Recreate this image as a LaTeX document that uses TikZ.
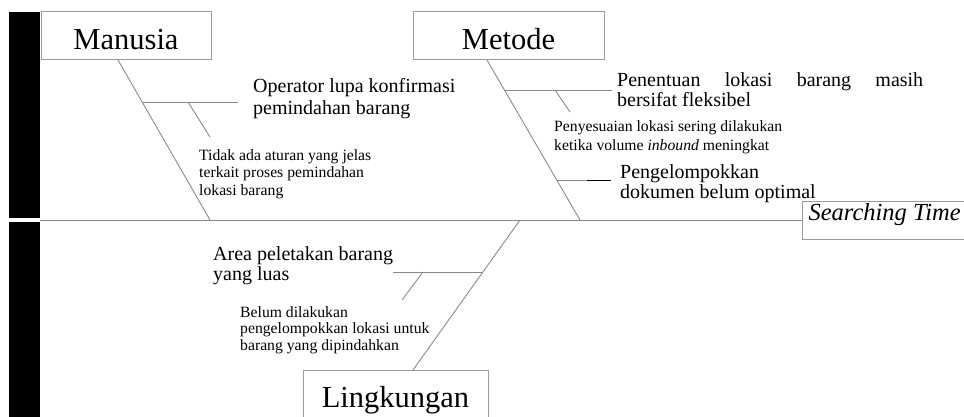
\documentclass[tikz,border=0pt]{standalone}
\usepackage{fontspec}
\setmainfont{Liberation Serif}
\definecolor{linegray}{HTML}{8A8A8A}
\definecolor{boxgray}{HTML}{9A9A9A}
\tikzset{
  bone/.style={draw=linegray, line width=0.9pt},
  titlebox/.style={draw=boxgray, line width=1pt, inner sep=0pt, anchor=base,
                   font=\fontsize{30.5}{32}\selectfont},
  bigtxt/.style={font=\fontsize{20}{22}\selectfont, align=left, inner sep=0pt, anchor=base west},
  smalltxt/.style={font=\fontsize{15.7}{17.5}\selectfont, align=left, inner sep=0pt, anchor=base west},
}
\begin{document}
\begin{tikzpicture}[x=1pt,y=-1pt]
\useasboundingbox (0,0) rectangle (964,417);
% black bar
\fill[black] (9,12) rectangle (40,218);
\fill[black] (9,222) rectangle (40,417);
% title boxes
\node[titlebox, minimum width=170pt, text height=38pt, text depth=10pt] (man) at (126,50) {Manusia};
\node[titlebox, minimum width=191pt, text height=38pt, text depth=10pt] (met) at (508.5,50) {Metode};
\node[titlebox, minimum width=185pt, text height=37pt, text depth=18pt] (lin) at (395.5,407) {Lingkungan};
\node[draw=boxgray, line width=1pt, inner ysep=0pt, inner xsep=6pt, text height=19pt, text depth=19pt,
      anchor=base west, font=\fontsize{24.5}{26}\selectfont\itshape] (st) at (802,220) {Searching Time};
% spine
\coordinate (tail) at (40,220);
\draw[bone] (tail) -- (st.west);
% Manusia bone
\coordinate (m1) at (118,60);
\coordinate (m2) at (210,220);
\draw[bone] (m1) -- (m2);
\coordinate (ma) at (143,102);
\coordinate (mb) at (238,102);
\draw[bone] (ma) -- (mb);
\coordinate (mc) at (188,102);
\coordinate (md) at (210,137);
\draw[bone] (mc) -- (md);
% Metode bone
\coordinate (e1) at (487,60);
\coordinate (e2) at (580,220);
\draw[bone] (e1) -- (e2);
\coordinate (ea) at (504,90);
\coordinate (eb) at (612,90);
\draw[bone] (ea) -- (eb);
\coordinate (ec) at (555,90);
\coordinate (ed) at (570,112);
\draw[bone] (ec) -- (ed);
\coordinate (ee) at (557,180);
\coordinate (ef) at (611,180);
\coordinate (eg) at (587,180);
\draw[bone] (ee) -- (ef);
\draw[black, line width=0.9pt] (eg) -- (ef);
% Lingkungan bone
\coordinate (l1) at (520,220);
\coordinate (l2) at (413,370);
\draw[bone] (l1) -- (l2);
\coordinate (la) at (393,272);
\coordinate (lb) at (483,272);
\draw[bone] (la) -- (lb);
\coordinate (lc) at (423,272);
\coordinate (ld) at (402,300);
\draw[bone] (lc) -- (ld);
% texts (base anchor = baseline of last line)
\node[bigtxt] (t1) at (253,115) {Operator lupa konfirmasi\\pemindahan barang};
\node[smalltxt] (t2) at (199,195) {Tidak ada aturan yang jelas\\terkait proses pemindahan\\lokasi barang};
\node[bigtxt, font=\fontsize{20}{20}\selectfont] (t3) at (617,107) {\makebox[306pt][s]{Penentuan lokasi barang masih}\\bersifat fleksibel};
\node[smalltxt, font=\fontsize{15.7}{18}\selectfont] (t4) at (554,150) {Penyesuaian lokasi sering dilakukan\\ketika volume \textit{inbound} meningkat};
\node[bigtxt, font=\fontsize{20}{20}\selectfont] (t5) at (620,198) {Pengelompokkan\\dokumen belum optimal};
\node[bigtxt, font=\fontsize{20}{20}\selectfont] (t6) at (213,280) {Area peletakan barang\\yang luas};
\node[smalltxt, font=\fontsize{15.7}{16.5}\selectfont] (t7) at (240,350) {Belum dilakukan\\pengelompokkan lokasi untuk\\barang yang dipindahkan};
\end{tikzpicture}
\end{document}
